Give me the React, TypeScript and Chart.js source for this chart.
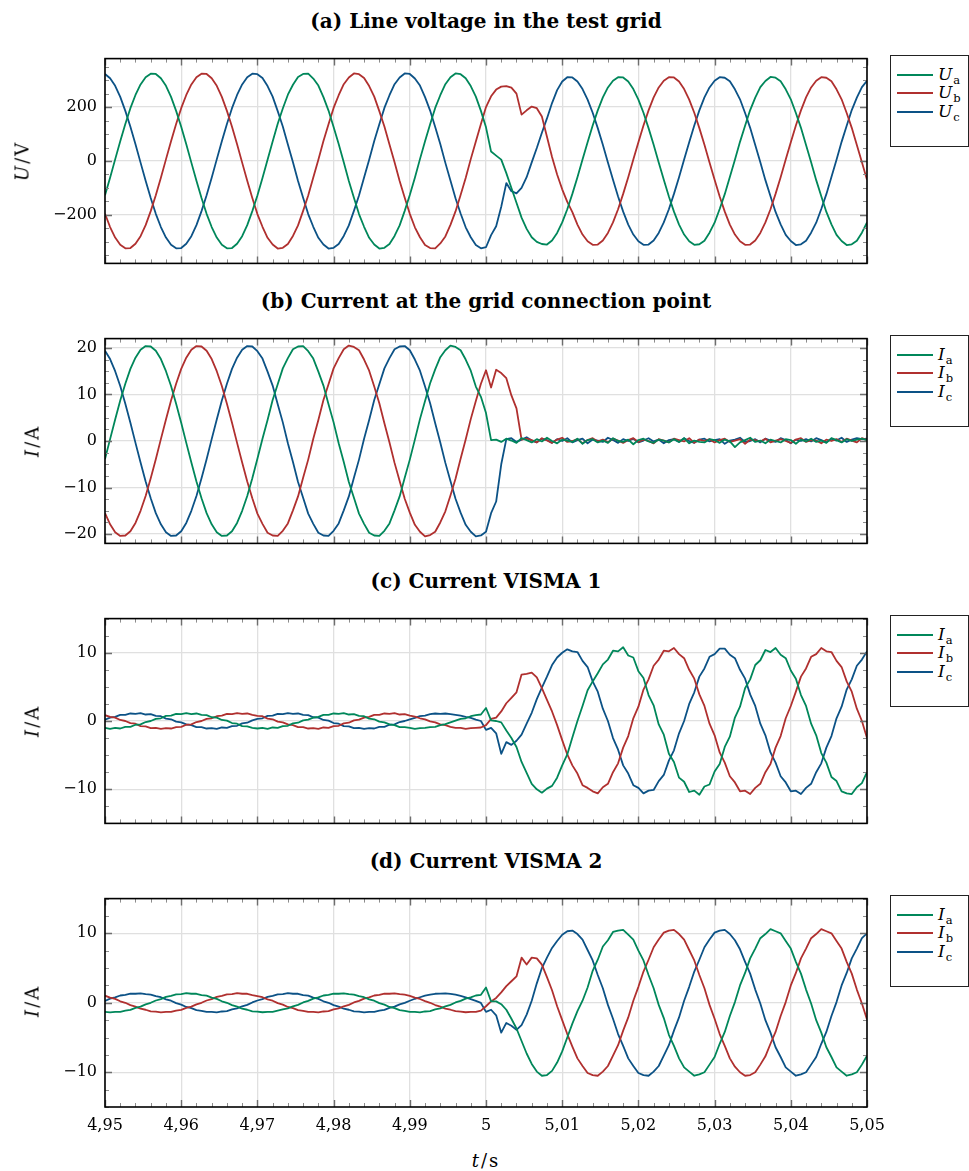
import React, { useEffect, useRef } from 'react';
import { Chart, registerables } from 'chart.js';

Chart.register(...registerables);

// ---------- sampling of the recorded signals ----------
const T0 = 4.95; // s, first sample
const DT = 1 / 1500; // s, sample period used for the read-off values
const X_MIN = 4.95;
const X_MAX = 5.05;
const X_TICK_STEP = 0.01;

// ---------- (a) line voltage, V ----------
const UA_0 = [
  -127, -62, 6, 73, 137, 196, 245, 284, 311, 324, 323, 307, 279, 238, 186, 127, 62, -6, -73, -137, -196, -245, -284, -311, -324, -323, -307, -279, -238, -186,
  -128, -63, 5, 72, 138, 195, 246, 283, 312, 323, 324, 306, 280, 237, 187, 126, 63, -5, -74, -136, -197, -244, -285, -310, -325, -322, -308, -278, -239, -185,
  -126, -62, 7, 73, 136, 197, 244, 285, 311, 325, 322, 307, 278, 239, 186,
];
const UA_75 = [125, 35, 20, 5, -45, -100, -155, -210, -252, -283, -300, -308];
const UA_87 = [
  -310, -295, -267, -228, -179, -122, -60, 6, 70, 132, 188, 236, 273, 298, 311,
  310, 295, 267, 228, 179, 122, 60, -6, -70, -132, -188, -236, -273, -298, -311,
  -309, -296, -266, -229, -178, -123, -59, 5, 71, 131, 189, 235, 274, 297, 312,
  309, 296, 266, 229, 178, 123, 59, -5, -71, -131, -189, -235, -274, -297, -312,
  -309, -296, -266, -228,
];
const UB_0 = [
  -196, -245, -284, -311, -324, -323, -307, -279, -238, -186, -127, -62, 6, 73, 137, 196, 245, 284, 311, 324, 323, 307, 279, 238, 186, 127, 62, -6, -73, -137,
  -197, -244, -285, -310, -325, -322, -308, -278, -239, -185, -128, -61, 5, 74, 136, 197, 244, 285, 310, 325, 322, 308, 278, 239, 185, 128, 61, -5, -74, -136,
  -196, -246, -283, -312, -323, -324, -306, -280, -237, -187, -126, -63, 7, 72, 137,
];
const UB_75 = [200, 240, 265, 276, 278, 272, 250, 172, 188, 202, 196, 165, 90, 15, -50, -105, -152, -190];
const UB_93 = [
  -236, -273, -298, -311, -310, -295, -267, -228, -179, -122, -60, 6, 70, 132, 188, 236, 273, 298, 311,
  310, 295, 267, 228, 179, 122, 60, -6, -70, -132, -188, -236, -273, -298, -311, -310, -295, -267, -228, -179, -122, -60, 6, 70, 132, 188, 236, 273, 298, 311,
  309, 296, 266, 229, 178, 123, 59, -5, -70,
];
const UC_0 = [
  323, 307, 279, 238, 186, 127, 62, -6, -73, -137, -196, -245, -284, -311, -324, -323, -307, -279, -238, -186, -127, -62, 6, 73, 137, 196, 245, 284, 311, 324,
  322, 308, 278, 239, 185, 128, 61, -5, -74, -136, -197, -244, -285, -310, -325, -322, -308, -278, -239, -185, -128, -61, 5, 74, 136, 197, 244, 285, 310, 325,
  323, 306, 280, 237, 187, 126, 63, -7, -72, -138, -195, -246, -283, -312, -324,
];
const UC_75 = [-320, -275, -242, -170, -82, -112, -120, -100, -60, -5, 48, 105, 158, 215, 263, 295];
const UC_91 = [
  311,
  310, 295, 267, 228, 179, 122, 60, -6, -70, -132, -188, -236, -273, -298, -311, -310, -295, -267, -228, -179, -122, -60, 6, 70, 132, 188, 236, 273, 298, 311,
  309, 296, 266, 229, 178, 123, 59, -5, -71, -131, -189, -235, -274, -297, -312, -309, -296, -266, -229, -178, -123, -59, 5, 71, 131, 189, 235, 274, 298,
];

// ---------- (b) current at the grid connection point, A ----------
const IA_B_0 = [
  -3.9, 0.4, 4.6, 8.7, 12.3, 15.5, 17.9, 19.6, 20.4, 20.3, 19.4, 17.6, 15.0, 11.8, 8.0, 3.9, -0.4, -4.6, -8.7, -12.3, -15.5, -17.9, -19.6, -20.4, -20.3, -19.4, -17.6, -15.0, -11.8, -8.0,
  -3.8, 0.5, 4.5, 8.8, 12.2, 15.6, 17.8, 19.7, 20.3, 20.4, 19.3, 17.7, 14.9, 11.9, 7.9, 4.0, -0.5, -4.5, -8.8, -12.2, -15.6, -17.8, -19.7, -20.3, -20.4, -19.3, -17.7, -14.9, -11.9, -7.9,
  -4.0, 0.3, 4.7, 8.6, 12.4, 15.4, 18.0, 19.5, 20.5, 20.2, 19.5, 17.5, 15.1, 11.7,
];
const IA_B_74 = [
  9.5, 6.0, 0.2,
  0.3, -0.2, 0.5, 0.1, -0.4, 0.6, 0.2, -0.3, 0.4, -0.1,
  0.7, 0.0, -0.5, 0.3, 0.1, -0.2, 0.5, -0.6, 0.2, 0.4,
  -0.3, 0.1, -0.4, 0.6, 0.0, -0.2, 0.3, -0.7, 0.2, 0.5,
  -0.1, -0.4, 0.3, 0.1, -0.3, 0.4, -0.2, 0.6, -0.5, 0.1,
  -0.2, -0.3, 0.4, 0.2, -0.4, 0.3, -0.1, -1.3, -0.3, 0.2,
  0.7, -0.2, 0.1, -0.5, 0.3, 0.0, -0.3, 0.4, 0.2, -0.6,
  0.3, -0.1, 0.5, -0.2, 0.1, -0.4, 0.6, 0.2, -0.3, 0.4,
  0.0, 0.3, 0.5, 0.2,
];
const IB_B_0 = [
  -15.5, -17.9, -19.6, -20.4, -20.3, -19.4, -17.6, -15.0, -11.8, -8.0, -3.9, 0.4, 4.6, 8.7, 12.3, 15.5, 17.9, 19.6, 20.4, 20.3, 19.4, 17.6, 15.0, 11.8, 8.0, 3.9, -0.4, -4.6, -8.7, -12.3,
  -15.6, -17.8, -19.7, -20.3, -20.4, -19.3, -17.7, -14.9, -11.9, -7.9, -4.0, 0.5, 4.5, 8.8, 12.2, 15.6, 17.8, 19.7, 20.5, 20.2, 19.5, 17.5, 15.1, 11.7, 8.1, 3.8, -0.3, -4.7, -8.6, -12.4,
  -15.4, -18.0, -19.5, -20.5, -20.2, -19.5, -17.5, -15.1, -11.7, -8.1, -3.8, 0.3, 4.7, 8.6, 12.3,
];
const IB_B_75 = [
  15.2, 11.5, 15.3, 14.6, 13.5, 9.8, 7.0, 0.3,
  0.5, 0.2, -0.3, 0.6, 0.1, -0.4, 0.3, 0.7, -0.2, 0.0,
  0.4, -0.5, 0.2, 0.6, -0.1, 0.3, -0.3, 0.5, 0.1, -0.4,
  0.2, 0.6, -0.2, 0.3, 0.0, -0.5, 0.4, 0.1, -0.3, 0.5,
  0.2, -0.1, 0.6, -0.4, 0.3, 0.0, 0.4, -0.3, 0.2, 0.5,
  -0.2, 0.1, 0.4, -0.6, 0.3, 0.2, -0.1, 0.5, -0.3, 0.1,
  0.4, 0.0, -0.4, 0.3, 0.6, -0.2, 0.2, 0.1, -0.5, 0.3,
  0.0, 0.4, -0.2, 0.5, 0.1, -0.3, 0.6, 0.2,
];
const IC_B_0 = [
  19.4, 17.6, 15.0, 11.8, 8.0, 3.9, -0.4, -4.6, -8.7, -12.3, -15.5, -17.9, -19.6, -20.4, -20.3, -19.4, -17.6, -15.0, -11.8, -8.0, -3.9, 0.4, 4.6, 8.7, 12.3, 15.5, 17.9, 19.6, 20.4, 20.3,
  19.3, 17.7, 14.9, 11.9, 7.9, 4.0, -0.5, -4.5, -8.8, -12.2, -15.6, -17.8, -19.7, -20.3, -20.4, -19.3, -17.7, -14.9, -11.9, -7.9, -4.0, 0.5, 4.5, 8.8, 12.2, 15.6, 17.8, 19.7, 20.3, 20.4,
  19.5, 17.5, 15.1, 11.7, 8.1, 3.8, -0.3, -4.7, -8.6, -12.4, -15.4, -18.0, -19.5, -20.5, -20.3,
];
const IC_B_75 = [
  -19.5, -15.5, -13.0, -5.0, 0.4,
  0.6, -0.2, 0.3, 0.8, 0.1, -0.3, 0.5, 0.2, -0.4, 0.4,
  0.0, 0.6, -0.3, 0.2, 0.5, -0.5, 0.3, 0.1, -0.2, 0.7,
  0.2, -0.4, 0.4, 0.0, 0.5, -0.3, 0.1, 0.6, -0.1, 0.3,
  -0.5, 0.2, 0.4, -0.2, 0.6, 0.0, -0.4, 0.3, 0.5, -0.1,
  0.2, 0.4, -0.6, 0.1, 0.3, 0.7, -0.2, 0.0, 0.4, -0.3,
  0.5, 0.1, -0.2, 0.6, 0.2, -0.5, 0.3, 0.0, 0.4, -0.1,
  0.6, 0.2, -0.3, 0.5, 0.1, 0.7, -0.2, 0.3, 0.6, 0.4,
  0.5,
];

// ---------- (c) current VISMA 1, A ----------
const IA_C_0 = [
  -1.0, -1.15, -1.0, -1.1, -0.85, -0.85, -0.55, -0.5, -0.15, 0.0, 0.3, 0.4, 0.75, 0.8, 1.05, 1.0, 1.15, 1.0, 1.1, 0.9, 0.85, 0.55, 0.5, 0.15, 0.05, -0.3, -0.4, -0.75, -0.8, -1.0,
  -1.1, -1.0, -1.15, -0.95, -1.0, -0.75, -0.7, -0.35, -0.25, 0.1, 0.2, 0.5, 0.6, 0.9, 0.9, 1.1, 1.05, 1.15, 0.95, 1.0, 0.75, 0.7, 0.35, 0.25, -0.1, -0.2, -0.5, -0.6, -0.9, -0.9,
  -1.0, -1.15, -1.05, -1.0, -0.9, -0.85, -0.6, -0.45, -0.2, 0.05, 0.3, 0.4, 0.7, 0.85, 0.95,
];
const IA_C_75 = [1.9, 0.1, 0.0, -0.2, -1.4, -2.5, -3.8, -6.0, -7.6, -9.2, -10.0, -10.5, -9.9, -9.5, -8.3, -6.5, -4.9, -2.4, 0.0, 2.2, 4.5];
const IA_C_96 = [
  5.8, 7.0, 8.3, 9.0, 10.3, 10.2, 10.8, 9.6, 9.3, 7.3, 6.3, 3.8, 2.3, -0.5, -2.0, -4.8, -6.0, -8.3, -8.9, -10.4, -10.2, -10.8, -9.6, -9.3, -7.4, -6.3, -3.8, -2.3, 0.5, 2.1,
  4.8, 6.1, 8.2, 8.9, 10.4, 10.1, 10.7, 9.7, 9.2, 7.4, 6.2, 3.8, 2.2, -0.4, -2.1, -4.7, -6.1, -8.2, -8.8, -10.3, -10.6, -10.7, -9.7, -9.1, -7.5,
];
const IB_C_0 = [
  0.85, 0.6, 0.5, 0.15, 0.0, -0.3, -0.4, -0.75, -0.8, -1.05, -1.0, -1.15, -1.05, -1.1, -0.9, -0.85, -0.55, -0.5, -0.15, 0.0, 0.3, 0.4, 0.7, 0.8, 1.05, 1.0, 1.15, 1.05, 1.1, 0.9,
  0.75, 0.7, 0.35, 0.25, -0.1, -0.2, -0.5, -0.6, -0.9, -0.9, -1.1, -1.05, -1.15, -0.95, -1.0, -0.75, -0.7, -0.35, -0.25, 0.1, 0.2, 0.5, 0.6, 0.9, 0.9, 1.1, 1.05, 1.15, 0.95, 1.0,
  0.8, 0.65, 0.4, 0.25, -0.05, -0.2, -0.5, -0.6, -0.85, -1.0, -1.0, -1.15, -1.05, -1.0, -0.95,
];
const IB_C_75 = [-0.6, 0.3, 0.5, 1.4, 2.6, 3.4, 4.2, 6.8, 6.9, 7.1, 6.4, 4.8, 3.1, 1.4, -0.6, -2.8, -4.9];
const IB_C_92 = [
  -6.5, -7.7, -9.4, -9.8, -10.3, -10.6, -9.7, -9.2, -7.5, -6.2, -3.9, -2.2, 0.4, 2.1, 4.6, 6.1, 8.1, 9.0, 10.3, 10.2, 10.7, 9.8, 9.2, 7.5, 6.2, 3.9, 2.2, -0.4, -2.1, -4.6,
  -6.1, -8.1, -9.0, -10.3, -10.2, -10.7, -9.8, -9.2, -7.5, -6.3, -3.9, -2.2, 0.4, 2.2, 4.3, 6.5, 7.7, 9.4, 9.8, 10.7, 10.2, 10.1, 8.8, 7.9, 5.8, 4.3, 1.8, 0.0, -2.5,
];
const IC_C_0 = [
  0.2, 0.5, 0.6, 0.9, 0.9, 1.1, 1.05, 1.15, 0.95, 1.0, 0.75, 0.7, 0.35, 0.25, -0.1, -0.2, -0.5, -0.6, -0.9, -0.9, -1.1, -1.05, -1.15, -0.95, -1.0, -0.75, -0.7, -0.35, -0.25, 0.1,
  0.3, 0.4, 0.75, 0.8, 1.05, 1.0, 1.15, 1.05, 1.1, 0.9, 0.85, 0.55, 0.5, 0.15, 0.05, -0.3, -0.4, -0.75, -0.8, -1.05, -1.0, -1.15, -1.05, -1.1, -0.85, -0.85, -0.55, -0.5, -0.15, 0.0,
  0.25, 0.45, 0.7, 0.8, 1.0, 1.1, 1.05, 1.1, 1.0, 0.9, 0.8, 0.6, 0.45, 0.2, 0.0,
];
const IC_C_75 = [-1.3, -1.0, -1.8, -4.8, -3.1, -3.5, -2.9, -2.0, -0.4, 1.2, 3.2, 4.9, 6.5, 8.2, 9.3, 10.0, 10.5];
const IC_C_92 = [
  10.2, 10.1, 8.8, 7.9, 5.8, 4.3, 1.8, 0.0, -2.5, -4.2, -6.5, -7.7, -9.4, -9.8, -10.6, -10.2, -10.1, -8.8, -7.9, -5.8, -4.3, -1.8, 0.0, 2.5, 4.2, 6.5, 7.7, 9.4, 9.8, 10.6,
  10.6, 9.7, 9.2, 7.5, 6.2, 3.9, 2.2, -0.4, -2.1, -4.6, -6.1, -8.1, -9.0, -10.3, -10.2, -10.7, -9.8, -9.2, -7.5, -6.2, -3.9, -2.2, 0.4, 2.1, 4.6, 6.1, 8.1, 9.0, 10.2,
];

// ---------- (d) current VISMA 2, A ----------
const IA_D_0 = [
  -1.3, -1.38, -1.3, -1.3, -1.12, -1.02, -0.74, -0.56, -0.22, 0.0, 0.33, 0.54, 0.85, 1.0, 1.22, 1.26, 1.38, 1.3, 1.3, 1.12, 1.02, 0.74, 0.56, 0.22, 0.0, -0.33, -0.54, -0.85, -1.0, -1.22,
  -1.26, -1.36, -1.3, -1.32, -1.14, -0.96, -0.8, -0.5, -0.3, 0.05, 0.27, 0.6, 0.78, 1.05, 1.15, 1.32, 1.3, 1.37, 1.25, 1.19, 0.96, 0.8, 0.5, 0.3, -0.05, -0.27, -0.6, -0.78, -1.05, -1.15,
  -1.32, -1.3, -1.37, -1.25, -1.19, -0.96, -0.8, -0.5, -0.29, 0.05, 0.27, 0.6, 0.78, 1.05, 1.15,
];
const IA_D_75 = [2.2, 0.2, 0.2, -0.2, -1.0, -2.3, -3.7, -5.5, -7.3, -8.8, -9.9, -10.5, -10.4, -9.8, -8.6, -7.0, -5.0, -3.0, -1.2];
const IA_D_94 = [
  0.3, 2.2, 4.6, 6.2, 8.1, 9.0, 10.2, 10.4, 10.5, 9.8, 9.1, 7.5, 6.1, 4.0, 2.1, -0.3, -2.2, -4.6, -6.2, -8.0, -9.3, -9.9, -10.5, -10.3, -10.0, -8.9, -7.8, -5.9, -4.2, -1.9,
  0.1, 2.5, 4.3, 6.4, 7.8, 9.3, 9.9, 10.6, 10.3, 10.0, 8.9, 7.8, 5.9, 4.2, 1.9, -0.1, -2.5, -4.3, -6.4, -7.8, -9.3, -9.9, -10.5, -10.3, -10.0, -8.9, -7.6,
];
const IB_D_0 = [
  1.02, 0.74, 0.56, 0.22, 0.0, -0.33, -0.54, -0.85, -1.0, -1.22, -1.26, -1.38, -1.3, -1.3, -1.12, -1.02, -0.74, -0.56, -0.22, 0.0, 0.33, 0.54, 0.85, 1.0, 1.22, 1.26, 1.38, 1.3, 1.3, 1.12,
  0.96, 0.8, 0.5, 0.3, -0.05, -0.27, -0.6, -0.78, -1.05, -1.15, -1.32, -1.3, -1.37, -1.25, -1.19, -0.96, -0.8, -0.5, -0.3, 0.05, 0.27, 0.6, 0.78, 1.05, 1.15, 1.32, 1.3, 1.37, 1.25, 1.19,
  1.0, 0.75, 0.55, 0.25, 0.0, -0.32, -0.55, -0.83, -1.0, -1.2, -1.27, -1.36, -1.31, -1.3, -1.13,
];
const IB_D_75 = [-0.5, 0.2, 0.7, 1.5, 2.4, 3.1, 3.8, 6.5, 5.5, 6.5, 6.4, 5.5, 3.7, 1.8, -0.5, -2.5, -4.5];
const IB_D_92 = [
  -6.3, -8.0, -9.1, -10.1, -10.4, -10.5, -9.9, -9.1, -7.6, -6.1, -4.0, -2.1, 0.3, 2.3, 4.5, 6.2, 8.0, 9.1, 10.1, 10.4, 10.5, 9.9, 9.1, 7.6, 6.1, 4.0, 2.1, -0.3, -2.3, -4.5,
  -6.2, -8.0, -9.2, -10.0, -10.5, -10.4, -10.0, -8.9, -7.7, -5.9, -4.2, -1.9, 0.1, 2.5, 4.3, 6.4, 7.8, 9.3, 9.9, 10.6, 10.3, 10.0, 8.9, 7.8, 5.9, 4.2, 1.9, -0.1, -2.4,
];
const IC_D_0 = [
  0.27, 0.6, 0.78, 1.05, 1.15, 1.32, 1.3, 1.37, 1.25, 1.19, 0.96, 0.8, 0.5, 0.3, -0.05, -0.27, -0.6, -0.78, -1.05, -1.15, -1.32, -1.3, -1.37, -1.25, -1.19, -0.96, -0.8, -0.5, -0.3, 0.05,
  0.33, 0.54, 0.85, 1.0, 1.22, 1.26, 1.38, 1.3, 1.3, 1.12, 1.02, 0.74, 0.56, 0.22, 0.0, -0.33, -0.54, -0.85, -1.0, -1.22, -1.26, -1.38, -1.3, -1.3, -1.12, -1.02, -0.74, -0.56, -0.22, 0.0,
  0.3, 0.58, 0.8, 1.03, 1.17, 1.3, 1.33, 1.35, 1.27, 1.17, 0.98, 0.78, 0.52, 0.27, -0.02,
];
const IC_D_75 = [-1.3, -1.0, -1.8, -4.3, -2.9, -3.3, -3.9, -3.2, -1.7, 0.3, 2.8, 5.0, 6.5, 7.9, 8.9, 9.8, 10.3];
const IC_D_92 = [
  10.4, 9.9, 9.1, 7.6, 6.1, 4.0, 2.1, -0.3, -2.3, -4.5, -6.2, -8.0, -9.1, -10.1, -10.4, -10.5, -9.9, -9.1, -7.6, -6.1, -4.0, -2.1, 0.3, 2.3, 4.5, 6.2, 8.0, 9.1, 10.1, 10.4,
  10.5, 9.9, 9.0, 7.7, 5.9, 4.2, 1.9, -0.1, -2.5, -4.3, -6.4, -7.8, -9.3, -9.9, -10.5, -10.3, -10.0, -8.9, -7.8, -5.9, -4.2, -1.9, 0.1, 2.5, 4.3, 6.4, 7.8, 9.3, 10.0,
];

// ---------- styles ----------
const GREEN = '#00875A';
const RED = '#B0302F';
const BLUE = '#0C5286';
const GRID = '#e0e0e0';
const FONT = "'DejaVu Serif', serif";

const CANVAS_W = 969;
const FRAME_L = 105;
const FRAME_R = 867;
const PLOT_H = 212;
const PAD = 14;

type Seg = [number, number[]];

function buildPoints(segs: Seg[]) {
  const m = new Map<number, number>();
  for (const [start, vals] of segs) vals.forEach((v, j) => m.set(start + j, v));
  return [...m.keys()].sort((a, b) => a - b).map((i) => ({ x: T0 + i * DT, y: m.get(i) as number }));
}

interface SeriesDef { sub: string; color: string; segs: Seg[] }
interface PanelDef {
  key: string; title: string; top: number; yMin: number; yMax: number; yStep: number; yMinor: number;
  sym: string; unit: string; labelX: number; showX: boolean; series: SeriesDef[];
}

const PANELS: PanelDef[] = [
  {
    key: 'a', title: '(a) Line voltage in the test grid', top: 55, yMin: -380, yMax: 380, yStep: 200, yMinor: 50,
    sym: 'U', unit: 'V', labelX: 22, showX: false,
    series: [
      { sub: 'a', color: GREEN, segs: [[0, UA_0], [75, UA_75], [87, UA_87]] },
      { sub: 'b', color: RED, segs: [[0, UB_0], [75, UB_75], [93, UB_93]] },
      { sub: 'c', color: BLUE, segs: [[0, UC_0], [75, UC_75], [91, UC_91]] },
    ],
  },
  {
    key: 'b', title: '(b) Current at the grid connection point', top: 335, yMin: -22, yMax: 22, yStep: 10, yMinor: 2.5,
    sym: 'I', unit: 'A', labelX: 32, showX: false,
    series: [
      { sub: 'a', color: GREEN, segs: [[0, IA_B_0], [74, IA_B_74]] },
      { sub: 'b', color: RED, segs: [[0, IB_B_0], [75, IB_B_75]] },
      { sub: 'c', color: BLUE, segs: [[0, IC_B_0], [75, IC_B_75]] },
    ],
  },
  {
    key: 'c', title: '(c) Current VISMA 1', top: 615, yMin: -15, yMax: 15, yStep: 10, yMinor: 2.5,
    sym: 'I', unit: 'A', labelX: 32, showX: false,
    series: [
      { sub: 'a', color: GREEN, segs: [[0, IA_C_0], [75, IA_C_75], [96, IA_C_96]] },
      { sub: 'b', color: RED, segs: [[0, IB_C_0], [75, IB_C_75], [92, IB_C_92]] },
      { sub: 'c', color: BLUE, segs: [[0, IC_C_0], [75, IC_C_75], [92, IC_C_92]] },
    ],
  },
  {
    key: 'd', title: '(d) Current VISMA 2', top: 895, yMin: -15, yMax: 15, yStep: 10, yMinor: 2.5,
    sym: 'I', unit: 'A', labelX: 32, showX: true,
    series: [
      { sub: 'a', color: GREEN, segs: [[0, IA_D_0], [75, IA_D_75], [94, IA_D_94]] },
      { sub: 'b', color: RED, segs: [[0, IB_D_0], [75, IB_D_75], [92, IB_D_92]] },
      { sub: 'c', color: BLUE, segs: [[0, IC_D_0], [75, IC_D_75], [92, IC_D_92]] },
    ],
  },
];

function fmtX(v: number) {
  return String(Math.round(v * 100) / 100).replace('.', ',');
}
function fmtY(v: number) {
  const r = Math.round(v * 100) / 100;
  return r < 0 ? '\u2212' + String(Math.abs(r)) : String(r);
}

// tick values of an axis between lo and hi at the given step
function tickValues(lo: number, hi: number, step: number) {
  const out: number[] = [];
  const k0 = Math.ceil(lo / step - 1e-6);
  const k1 = Math.floor(hi / step + 1e-6);
  for (let k = k0; k <= k1; k++) out.push(Math.round(k * step * 1e6) / 1e6);
  return out;
}

function framePlugin(p: PanelDef) {
  return {
    id: 'frame_' + p.key,
    afterDatasetsDraw(chart: any) {
      const { ctx, chartArea: a } = chart;
      const xs = chart.scales.x;
      const ys = chart.scales.y;
      ctx.save();
      const xTicks = (step: number, len: number, color: string, w: number) => {
        ctx.strokeStyle = color;
        ctx.lineWidth = w;
        ctx.beginPath();
        for (const v of tickValues(X_MIN, X_MAX, step)) {
          const px = Math.round(xs.getPixelForValue(v)) + 0.5;
          ctx.moveTo(px, a.bottom);
          ctx.lineTo(px, a.bottom - len);
          ctx.moveTo(px, a.top);
          ctx.lineTo(px, a.top + len);
        }
        ctx.stroke();
      };
      const yTicks = (step: number, len: number, color: string, w: number) => {
        ctx.strokeStyle = color;
        ctx.lineWidth = w;
        ctx.beginPath();
        for (const v of tickValues(p.yMin, p.yMax, step)) {
          const py = Math.round(ys.getPixelForValue(v)) + 0.5;
          ctx.moveTo(a.left, py);
          ctx.lineTo(a.left + len, py);
          ctx.moveTo(a.right, py);
          ctx.lineTo(a.right - len, py);
        }
        ctx.stroke();
      };
      xTicks(0.002, 4, '#8c8c8c', 1);
      xTicks(X_TICK_STEP, 7, '#6e6e6e', 1.4);
      yTicks(p.yMinor, 4, '#8c8c8c', 1);
      yTicks(p.yStep, 7, '#6e6e6e', 1.4);
      ctx.strokeStyle = '#000';
      ctx.lineWidth = 1.6;
      ctx.strokeRect(a.left, a.top, a.right - a.left, a.bottom - a.top);
      ctx.restore();
    },
  };
}

function canvasHeight(p: PanelDef) {
  return PAD + PLOT_H + (p.showX ? 40 : PAD);
}

function Panel({ p }: { p: PanelDef }) {
  const ref = useRef<HTMLCanvasElement>(null);
  useEffect(() => {
    const tickFont = { family: FONT, size: 16 };
    const chart = new Chart(ref.current as HTMLCanvasElement, {
      type: 'line',
      data: {
        datasets: p.series.map((s) => ({
          data: buildPoints(s.segs),
          borderColor: s.color,
          borderWidth: 1.8,
          pointRadius: 0,
          fill: false,
          tension: 0,
          borderJoinStyle: 'round' as const,
        })),
      },
      options: {
        animation: false,
        responsive: false,
        events: [],
        layout: { padding: { top: PAD, right: CANVAS_W - FRAME_R, left: 0, bottom: 0 } },
        plugins: { legend: { display: false }, tooltip: { enabled: false }, title: { display: false } },
        scales: {
          x: {
            type: 'linear',
            min: X_MIN,
            max: X_MAX,
            afterBuildTicks: (s: any) => { s.ticks = tickValues(X_MIN, X_MAX, X_TICK_STEP).map((value) => ({ value })); },
            ticks: {
              display: p.showX,
              callback: (v: any) => fmtX(Number(v)),
              font: tickFont,
              color: '#000',
              padding: 9,
              maxRotation: 0,
              autoSkip: false,
            },
            grid: { color: GRID, lineWidth: 1.3, drawTicks: false },
            border: { display: false },
            afterFit: (s: any) => { s.height = p.showX ? 40 : PAD; },
          },
          y: {
            type: 'linear',
            min: p.yMin,
            max: p.yMax,
            afterBuildTicks: (s: any) => { s.ticks = tickValues(p.yMin, p.yMax, p.yStep).map((value) => ({ value })); },
            ticks: {
              callback: (v: any) => fmtY(Number(v)),
              font: tickFont,
              color: '#000',
              padding: 8,
              autoSkip: false,
            },
            grid: { color: GRID, lineWidth: 1.3, drawTicks: false },
            border: { display: false },
            afterFit: (s: any) => { s.width = FRAME_L; },
          },
        },
      } as any,
      plugins: [framePlugin(p)],
    });
    return () => chart.destroy();
  }, [p]);
  const h = canvasHeight(p);
  return (
    <canvas
      ref={ref}
      width={CANVAS_W}
      height={h}
      style={{ position: 'absolute', left: 0, top: p.top - PAD, width: CANVAS_W, height: h }}
    />
  );
}

function Legend({ p }: { p: PanelDef }) {
  return (
    <div
      style={{
        position: 'absolute', left: 890, top: p.top, width: 79, height: 92, boxSizing: 'border-box',
        border: '1.3px solid #222', background: '#fff',
      }}
    >
      {p.series.map((s, k) => (
        <div
          key={k}
          style={{ position: 'absolute', left: 6, top: 18.5 + k * 18.7 - 11, height: 22, display: 'flex', alignItems: 'center' }}
        >
          <div style={{ width: 36, height: 0, borderTop: `2px solid ${s.color}` }} />
          <span style={{ marginLeft: 5, fontFamily: FONT, fontStyle: 'italic', fontSize: 17, lineHeight: '22px', whiteSpace: 'nowrap' }}>
            {p.sym}
            <span style={{ fontStyle: 'normal', fontSize: 11.5, position: 'relative', top: 4, marginLeft: 1 }}>{s.sub}</span>
          </span>
        </div>
      ))}
    </div>
  );
}

export default function App() {
  return (
    <div style={{ position: 'absolute', left: 0, top: 0, width: 969, height: 1171, background: '#fff', overflow: 'hidden' }}>
      {PANELS.map((p) => (
        <React.Fragment key={p.key}>
          <div
            style={{
              position: 'absolute', left: FRAME_L, width: FRAME_R - FRAME_L, top: p.top - 46, height: 24, lineHeight: '24px',
              textAlign: 'center', fontFamily: FONT, fontWeight: 'bold', fontSize: 20, color: '#000', whiteSpace: 'nowrap',
            }}
          >
            {p.title}
          </div>
          <Panel p={p} />
          <Legend p={p} />
          <div
            style={{
              position: 'absolute', left: p.labelX, top: p.top + PLOT_H / 2, transform: 'translate(-50%, -50%) rotate(-90deg)',
              fontFamily: FONT, fontSize: 18, whiteSpace: 'nowrap', letterSpacing: 2, color: '#000',
            }}
          >
            <i>{p.sym}</i>/{p.unit}
          </div>
        </React.Fragment>
      ))}
      <div
        style={{
          position: 'absolute', left: 486, top: 1160, transform: 'translate(-50%, -50%)',
          fontFamily: FONT, fontSize: 18, whiteSpace: 'nowrap', letterSpacing: 2, color: '#000',
        }}
      >
        <i>t</i>/s
      </div>
    </div>
  );
}
